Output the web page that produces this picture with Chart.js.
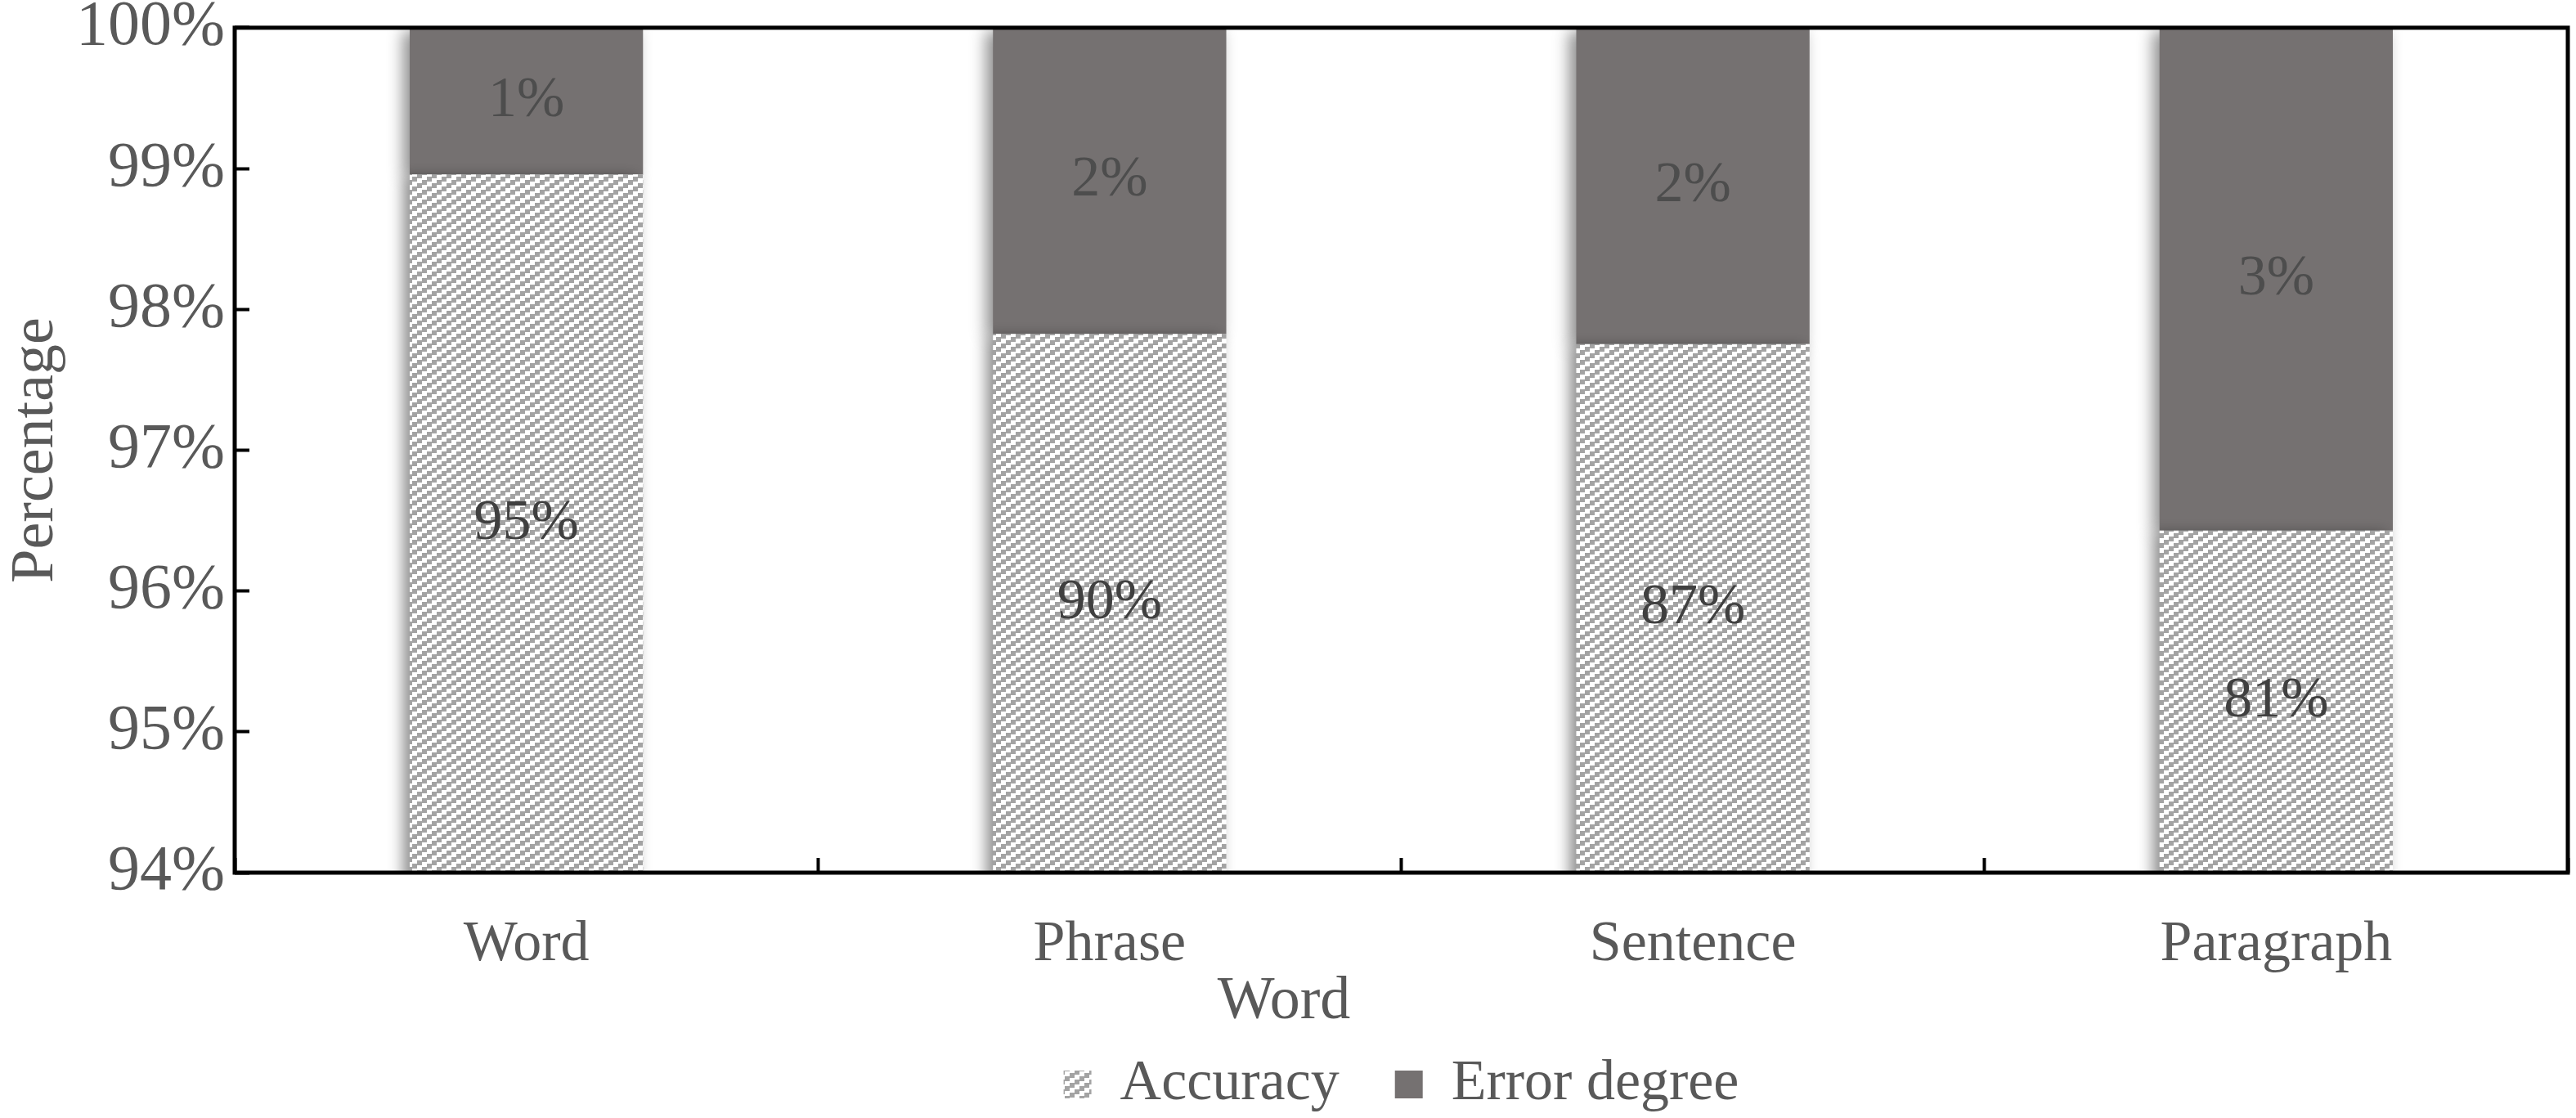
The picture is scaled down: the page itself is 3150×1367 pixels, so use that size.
<!DOCTYPE html>
<html>
<head>
<meta charset="utf-8">
<script src="https://cdn.jsdelivr.net/npm/chart.js@4.4.0/dist/chart.umd.min.js"></script>
<style>
  body { margin: 0; background: #ffffff; }
  #wrap { width: 3150px; height: 1367px; }
</style>
</head>
<body>
<div id="wrap"><canvas id="myChart"></canvas></div>
<script>
// categories on the x axis
let categories = ['Word', 'Phrase', 'Sentence', 'Paragraph'];

// values written inside the bars (percent)
let accuracy = [95, 90, 87, 81];
let errorDegree = [1, 2, 2, 3];

// y axis ticks (percent)
let yTicks = [94, 95, 96, 97, 98, 99, 100];

// 100% stacked column: each bar height is the share of the bar total
let accShare = accuracy.map((v, i) => v / (v + errorDegree[i]) * 100);
let errShare = errorDegree.map((v, i) => v / (accuracy[i] + errorDegree[i]) * 100);

const canvas = document.getElementById('myChart');
const mainCtx = canvas.getContext('2d');

Chart.defaults.font.family = "'Liberation Serif', 'Times New Roman', serif";
Chart.defaults.color = '#595959';

//stair-step upward diagonal hatch like the excel pattern fill
function makeHatch() {
    let c = document.createElement('canvas');
    c.width = 18;
    c.height = 12;
    let g = c.getContext('2d');
    g.fillStyle = '#ffffff';
    g.fillRect(0, 0, 18, 12);
    g.fillStyle = '#a3a3a3';
    for (let i = 0; i < 3; i++) {
        for (let j = 0; j < 6; j++) {
            if ((2 * i + j) % 6 < 3) {
                g.fillRect(i * 6, j * 2, 6, 2);
            }
        }
    }
    return mainCtx.createPattern(c, 'repeat');
}

let hatch = makeHatch();

//shadow under the bars, value labels and the plot frame
const barDecor = {
    id: 'barDecor',
    beforeDatasetsDraw(chart) {
        let ctx = chart.ctx;
        ctx.save();
        ctx.shadowColor = 'rgba(0, 0, 0, 0.45)';
        ctx.shadowBlur = 18;
        ctx.shadowOffsetX = -8;
        ctx.shadowOffsetY = 4;
    },
    afterDatasetsDraw(chart) {
        let ctx = chart.ctx;
        ctx.restore();
        let area = chart.chartArea;

        let texts = [accuracy, errorDegree];
        let colors = ['#404040', '#4d4d4d'];
        ctx.save();
        ctx.font = "70px 'Liberation Serif'";
        ctx.textAlign = 'center';
        ctx.textBaseline = 'middle';
        chart.data.datasets.forEach((ds, d) => {
            let meta = chart.getDatasetMeta(d);
            meta.data.forEach((bar, i) => {
                let top = Math.max(Math.min(bar.y, bar.base), area.top);
                let bottom = Math.min(Math.max(bar.y, bar.base), area.bottom);
                ctx.fillStyle = colors[d];
                ctx.fillText(texts[d][i] + '%', bar.x, (top + bottom) / 2);
            });
        });
        ctx.restore();

        //black frame round the plot
        ctx.save();
        ctx.strokeStyle = '#000000';
        ctx.lineWidth = 5;
        ctx.strokeRect(area.left, area.top, area.right - area.left, area.bottom - area.top);
        ctx.restore();
    }
};

let chart = new Chart(canvas, {
    type: 'bar',
    data: {
        labels: categories,
        datasets: [{
            label: 'Accuracy',
            data: accShare,
            backgroundColor: hatch,
            borderWidth: 0
        }, {
            label: 'Error degree',
            data: errShare,
            backgroundColor: '#757171',
            borderWidth: 0
        }]
    },
    options: {
        responsive: true,
        maintainAspectRatio: false,
        animation: false,
        categoryPercentage: 1,
        barPercentage: 0.4,
        layout: {
            padding: { left: 0, right: 10, top: 0, bottom: -4 }
        },
        scales: {
            x: {
                stacked: true,
                grid: {
                    offset: true,
                    drawOnChartArea: false,
                    tickLength: -18,
                    tickWidth: 4,
                    tickColor: '#000000'
                },
                border: { display: false },
                ticks: {
                    color: '#595959',
                    font: { size: 70 },
                    padding: 65
                },
                afterFit(s) { s.height = 122; }
            },
            y: {
                stacked: true,
                min: 94,
                max: 100,
                grid: {
                    drawOnChartArea: false,
                    tickLength: -18,
                    tickWidth: 4,
                    tickColor: '#000000'
                },
                border: { display: false },
                ticks: {
                    color: '#595959',
                    // small lineHeight so the top label does not push the plot down
                    font: { size: 78, lineHeight: 0.1 },
                    padding: 30,
                    callback: v => v + '%'
                },
                afterBuildTicks(s) {
                    s.ticks = yTicks.map(v => ({ value: v }));
                },
                title: {
                    display: true,
                    text: 'Percentage',
                    color: '#595959',
                    font: { size: 74 },
                    padding: 0
                },
                afterFit(s) { s.width = 287; }
            }
        },
        plugins: {
            legend: {
                position: 'bottom',
                fullSize: false,
                weight: 1000,
                labels: {
                    color: '#595959',
                    font: { size: 70 },
                    boxWidth: 34,
                    boxHeight: 34,
                    padding: 68
                }
            },
            title: {
                display: true,
                position: 'bottom',
                text: 'Word',
                weight: 500,
                color: '#595959',
                font: { size: 74, lineHeight: 1, weight: 'normal' },
                padding: { top: 0, bottom: -40 }
            },
            tooltip: { enabled: false }
        }
    },
    plugins: [barDecor]
});
</script>
</body>
</html>
